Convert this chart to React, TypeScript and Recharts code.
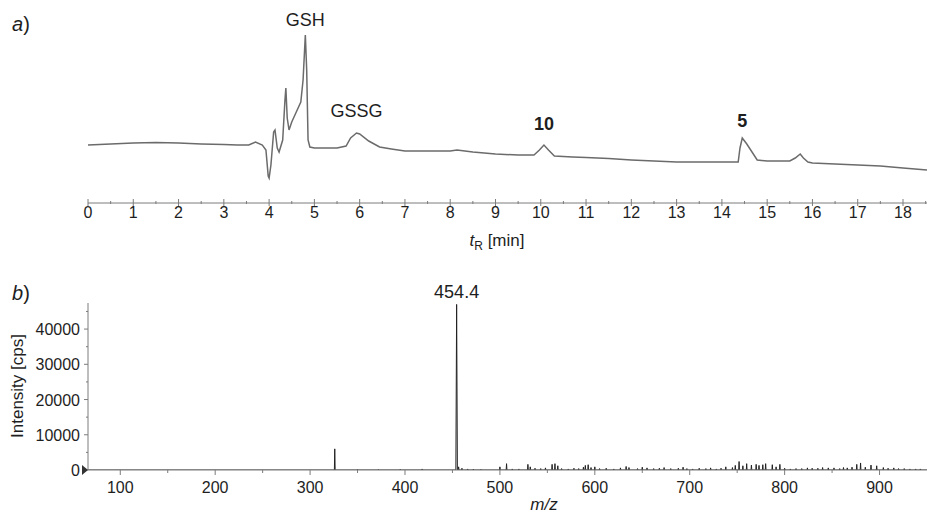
import { LineChart, Line, XAxis, YAxis, ReferenceDot } from 'recharts';

const FONT = '"Liberation Sans", Arial, Helvetica, sans-serif';
const INK = '#1e1e1e';
const AXIS = '#7c7c7c';

// a) HPLC trace (retention time in min, detector signal in arbitrary units)
const rtMinutes = [
  0, 0.5, 1.0, 1.5, 2.0, 2.5, 3.0, 3.3, 3.55, 3.7, 3.85, 3.93, 3.98, 4.0, 4.04, 4.1, 4.13,
  4.18, 4.22, 4.3, 4.35, 4.37, 4.4, 4.44, 4.5, 4.6, 4.7, 4.75, 4.8, 4.83, 4.86, 4.9, 5.0,
  5.5, 5.7, 5.8, 5.93, 6.0, 6.2, 6.44, 6.7, 7.0, 7.5, 8.0, 8.15, 8.5, 9.0, 9.5, 9.85, 9.97,
  10.07, 10.17, 10.3, 10.7, 11.0, 11.5, 12.0, 12.5, 13.0, 13.5, 14.0, 14.36, 14.4, 14.45,
  14.55, 14.78, 15.0, 15.5, 15.62, 15.73, 15.8, 15.9, 16.0, 16.5, 17.0, 17.5, 18.0, 18.53,
];
const uvSignal = [
  58, 59, 60, 60.5, 60, 59, 58.5, 58, 58, 61, 58, 53, 27, 25, 38, 71, 73,
  55, 51, 63, 103, 115, 85, 73, 81, 91, 101, 123, 168, 133, 63, 56, 55,
  55, 57, 65, 70, 69, 62, 56, 54, 52, 52, 52, 53, 51, 49, 48, 48, 53,
  58, 53, 47, 46, 45.5, 44.5, 43, 42, 41, 41, 41, 41, 55, 65,
  59, 43, 42, 42, 45, 49, 45, 41, 40, 39, 38, 37, 35, 33,
];
const rtMajorTicks = [0, 1, 2, 3, 4, 5, 6, 7, 8, 9, 10, 11, 12, 13, 14, 15, 16, 17, 18];
const rtMinorTicks = [0.5, 1.5, 2.5, 3.5, 4.5, 5.5, 6.5, 7.5, 8.5, 9.5, 10.5, 11.5, 12.5, 13.5, 14.5, 15.5, 16.5, 17.5, 18.5];
const rtPeakNames = ['GSH', 'GSSG', '10', '5'];
const rtPeakTimes = [4.8, 5.93, 10.07, 14.45];
const rtPeakBold = [false, false, true, true];
const rtPeakGap = [9, 16, 15, 11];

// b) mass spectrum of the peak (m/z, intensity in cps)
const mzValues = [
  326, 350, 372, 395, 418, 454.4, 456.5, 460, 466, 472, 480, 500, 507, 513, 520, 529.5, 532,
  537, 543, 548, 555, 558, 561, 565, 572, 578, 583, 588, 590, 593, 596, 600, 605, 612, 620,
  627, 633, 636, 645, 650, 655, 662, 668, 673, 680, 688, 693, 697, 703, 710, 717, 722, 728,
  733, 738, 745, 748, 752, 756, 760, 765, 770, 773, 777, 780, 787, 791, 795, 800, 806, 812,
  818, 824, 829, 835, 840, 846, 852, 858, 862, 866, 871, 876, 880, 885, 891, 897, 904, 909,
  915, 920, 926, 932, 938, 943,
];
const mzIntensity = [
  6000, 150, 150, 200, 300, 47000, 900, 500, 300, 250, 200, 900, 1800, 300, 300, 1600, 900,
  500, 400, 600, 1600, 1800, 1200, 400, 300, 500, 400, 800, 1300, 1500, 700, 900, 400, 500, 300,
  600, 1000, 700, 400, 800, 600, 400, 500, 700, 400, 500, 800, 400, 300, 500, 400, 600, 300,
  500, 900, 700, 1300, 2400, 1200, 1800, 1400, 1600, 1300, 1500, 1800, 1500, 900, 1600, 500, 300, 400,
  400, 600, 500, 500, 700, 600, 600, 400, 700, 600, 800, 1600, 2000, 800, 1400, 1200, 700, 500,
  600, 400, 400, 300, 300, 300,
];
const mzMajorTicks = [100, 200, 300, 400, 500, 600, 700, 800, 900];
const mzMinorTicks = [150, 250, 350, 450, 550, 650, 750, 850];
const intensityMajorTicks = [0, 10000, 20000, 30000, 40000];
const intensityMinorTicks = [5000, 15000, 25000, 35000, 45000];
const mzPeakLabel = '454.4';

const traceData = rtMinutes.map((t, i) => ({ t, signal: uvSignal[i] }));

// stick spectrum: each peak drawn as a thin spike from the baseline
const spectrumData: { mz: number; intensity: number }[] = [{ mz: 66, intensity: 0 }];
mzValues.forEach((mz, i) => {
  const w = mzIntensity[i] > 10000 ? 0.8 : 0.4;
  spectrumData.push({ mz: mz - w, intensity: 0 });
  spectrumData.push({ mz, intensity: mzIntensity[i] });
  spectrumData.push({ mz: mz + w, intensity: 0 });
});
spectrumData.push({ mz: 950, intensity: 0 });

const isMajor = (v: number, list: number[]) => list.includes(v);

function TimeTick({ x, y, payload }: any) {
  const major = isMajor(payload.value, rtMajorTicks);
  return (
    <g>
      <line x1={x} x2={x} y1={y - (major ? 4 : 2)} y2={y + (major ? 3 : 1)} stroke={AXIS} />
      {major && (
        <text x={x} y={y + 15} textAnchor="middle" fontSize={16} fontFamily={FONT} fill={INK}>
          {payload.value}
        </text>
      )}
    </g>
  );
}

function MzTick({ x, y, payload }: any) {
  const major = isMajor(payload.value, mzMajorTicks);
  return (
    <g>
      <line x1={x} x2={x} y1={y} y2={y + (major ? 5 : 3)} stroke={AXIS} />
      {major && (
        <text x={x} y={y + 23} textAnchor="middle" fontSize={16} fontFamily={FONT} fill={INK}>
          {payload.value}
        </text>
      )}
    </g>
  );
}

function IntensityTick({ x, y, payload }: any) {
  const major = isMajor(payload.value, intensityMajorTicks);
  return (
    <g>
      <line x1={x} x2={x - (major ? 4 : 2)} y1={y} y2={y} stroke={AXIS} />
      {major && (
        <text x={x - 8} y={y + 6} textAnchor="end" fontSize={16} fontFamily={FONT} fill={INK}>
          {payload.value}
        </text>
      )}
      {payload.value === 0 && (
        <polygon points={`${x - 6},${y - 5} ${x},${y} ${x - 6},${y + 5}`} fill="#333" />
      )}
    </g>
  );
}

const peakLabel = (text: string, gap: number, bold: boolean, size: number) => (props: any) => {
  const { viewBox } = props;
  return (
    <text
      x={viewBox.x}
      y={viewBox.y - gap}
      textAnchor="middle"
      fontSize={size}
      fontWeight={bold ? 'bold' : 'normal'}
      fontFamily={FONT}
      fill={INK}
    >
      {text}
    </text>
  );
};

const panelLetter: React.CSSProperties = {
  position: 'absolute',
  left: 12,
  fontFamily: FONT,
  fontSize: 20,
  color: INK,
};

export default function App() {
  return (
    <div style={{ position: 'absolute', left: 0, top: 0, width: 927, height: 515, background: '#fff', overflow: 'hidden' }}>
      <div style={{ ...panelLetter, top: 13 }}>
        <i>a</i>)
      </div>
      <div style={{ ...panelLetter, top: 282 }}>
        <i>b</i>)
      </div>

      <div style={{ position: 'absolute', left: 0, top: 0 }}>
        <LineChart width={927} height={260} data={traceData} margin={{ top: 30, right: 0, bottom: 0, left: 88 }}>
          <XAxis
            dataKey="t"
            type="number"
            domain={[0, 18.53]}
            ticks={[...rtMajorTicks, ...rtMinorTicks].sort((a, b) => a - b)}
            interval={0}
            height={57}
            stroke={AXIS}
            tickSize={0}
            tickMargin={0}
            tickLine={false}
            tick={<TimeTick />}
            allowDataOverflow
            label={{
              content: () => (
                <text x={497} y={246} textAnchor="middle" fontSize={17} fontFamily={FONT} fill={INK}>
                  <tspan fontStyle="italic">t</tspan>
                  <tspan fontSize={12} dy={4}>R</tspan>
                  <tspan dy={-4}> [min]</tspan>
                </text>
              ),
            }}
          />
          <YAxis hide domain={[0, 173]} allowDataOverflow />
          <Line
            dataKey="signal"
            type="linear"
            stroke="#6b6b6b"
            strokeWidth={1.5}
            dot={false}
            isAnimationActive={false}
          />
          {rtPeakTimes.map((t, i) => (
            <ReferenceDot
              key={rtPeakNames[i]}
              x={t}
              y={uvSignal[rtMinutes.indexOf(t)]}
              r={0}
              stroke="none"
              fill="none"
              ifOverflow="visible"
              label={{ content: peakLabel(rtPeakNames[i], rtPeakGap[i], rtPeakBold[i], 18) }}
            />
          ))}
        </LineChart>
      </div>

      <div style={{ position: 'absolute', left: 0, top: 270 }}>
        <LineChart width={927} height={245} data={spectrumData} margin={{ top: 33, right: 0, bottom: 0, left: 0 }}>
          <XAxis
            dataKey="mz"
            type="number"
            domain={[66, 950]}
            ticks={[...mzMajorTicks, ...mzMinorTicks].sort((a, b) => a - b)}
            interval={0}
            height={45}
            stroke={AXIS}
            tickSize={0}
            tickMargin={0}
            tickLine={false}
            tick={<MzTick />}
            allowDataOverflow
            label={{
              content: () => (
                <text x={544} y={240} textAnchor="middle" fontSize={17} fontStyle="italic" fontFamily={FONT} fill={INK}>
                  m/z
                </text>
              ),
            }}
          />
          <YAxis
            type="number"
            domain={[0, 47400]}
            ticks={[...intensityMajorTicks, ...intensityMinorTicks].sort((a, b) => a - b)}
            interval={0}
            width={88}
            stroke={AXIS}
            tickSize={0}
            tickMargin={0}
            tickLine={false}
            tick={<IntensityTick />}
            allowDataOverflow
            label={{
              content: () => (
                <text
                  x={23}
                  y={116}
                  transform="rotate(-90 23 116)"
                  textAnchor="middle"
                  fontSize={17}
                  fontFamily={FONT}
                  fill={INK}
                >
                  Intensity [cps]
                </text>
              ),
            }}
          />
          <Line
            dataKey="intensity"
            type="linear"
            stroke="#222"
            strokeWidth={1}
            dot={false}
            isAnimationActive={false}
          />
          <ReferenceDot
            x={454.4}
            y={47000}
            r={0}
            stroke="none"
            fill="none"
            ifOverflow="visible"
            label={{ content: peakLabel(mzPeakLabel, 6, false, 18) }}
          />
        </LineChart>
      </div>
    </div>
  );
}
